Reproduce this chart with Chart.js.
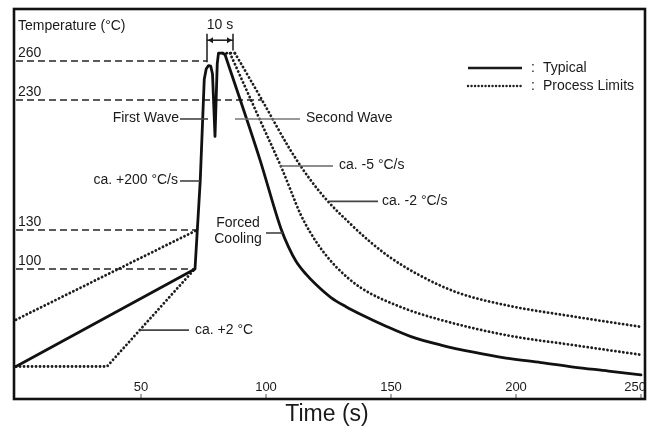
<!DOCTYPE html>
<html>
<head>
<meta charset="utf-8">
<script src="https://cdn.jsdelivr.net/npm/chart.js"></script>
<style>
  body { margin: 0; background: #fff; }
</style>
</head>
<body>
<canvas id="profileChart" width="652" height="433"></canvas>
<script>
// time (s) / temperature (°C)
const typicalTime = [0, 71.6, 73.7, 75.3, 76.1, 77.0, 77.9, 78.6, 79.6, 80.5, 81.0, 82.7, 83.6, 97.6, 106, 109, 112, 116, 120, 126, 132, 138, 148, 158, 170, 183, 196, 210, 223, 237, 250]
const typicalTemp = [25, 100, 168, 246, 254, 256.5, 256, 250, 202, 258, 266, 266, 265, 184, 131, 117, 106, 96, 88, 78, 71, 65, 56, 48, 41.5, 36, 31.5, 28, 24.6, 21.5, 18.5]
const coolingStart = 12 // index where the typical curve starts to cool

const lowPreTime = [0, 36.4, 71]
const lowPreTemp = [25, 25, 99]
const highPreTime = [0, 72.4]
const highPreTemp = [61, 130]

const plateauTime = [82.7, 87.6]
const plateauTemp = [266, 266]
const fastCoolTime = [85.6, 96.8, 106.4, 110.4, 113.6, 117.6, 122.4, 128.4, 137.6, 153.6, 169.6, 196.4, 222.8, 250]
const fastCoolTemp = [266, 218, 177, 158, 143, 128.5, 114.6, 101, 86, 71, 61, 49, 41.5, 34]
const slowCoolTime = [87.6, 98.4, 109.6, 117.6, 124.8, 133.6, 141.6, 149.6, 161.6, 176.4, 196.4, 222.8, 250]
const slowCoolTemp = [266, 230, 192, 169, 152, 135, 121, 109, 95, 82, 72, 63.5, 55.5]

const refTemps = [260, 230, 130, 100]
const refEnds = [76.4, 98.4, 72.4, 71.6]
const xTicks = [50, 100, 150, 200, 250]

const toPoints = (xs, ys) => xs.map((x, i) => ({ x: x, y: ys[i] }))

const FONT = '"Liberation Sans", Arial, sans-serif'
const INK = '#1a1a1a'

const solid = {
    borderColor: '#111',
    borderWidth: 2.8,
    borderJoinStyle: 'round',
    borderCapStyle: 'round',
    pointRadius: 0,
    tension: 0,
    fill: false
}

const dotted = {
    borderColor: '#1e1e1e',
    borderWidth: 2.8,
    borderDash: [0.1, 3.9],
    borderCapStyle: 'round',
    pointRadius: 0,
    tension: 0,
    fill: false
}

function text(ctx, str, x, y, align, size) {
    ctx.font = (size || 14) + 'px ' + FONT
    ctx.textAlign = align || 'left'
    ctx.textBaseline = 'middle'
    ctx.fillStyle = INK
    ctx.fillText(str, x, y)
}

function line(ctx, x1, y1, x2, y2, color, width, dash) {
    ctx.save()
    ctx.strokeStyle = color
    ctx.lineWidth = width
    ctx.lineCap = dash ? 'round' : 'butt'
    ctx.setLineDash(dash || [])
    ctx.beginPath()
    ctx.moveTo(x1, y1)
    ctx.lineTo(x2, y2)
    ctx.stroke()
    ctx.restore()
}

const decorations = {
    id: 'decorations',
    beforeDatasetsDraw(chart) {
        const ctx = chart.ctx
        const xs = chart.scales.x, ys = chart.scales.y
        const left = chart.chartArea.left
        refTemps.forEach((t, i) => {
            const y = ys.getPixelForValue(t)
            ctx.save()
            ctx.strokeStyle = '#5a5a5a'
            ctx.lineWidth = 1.8
            ctx.setLineDash([7, 4])
            ctx.beginPath()
            ctx.moveTo(left + 2, y)
            ctx.lineTo(xs.getPixelForValue(refEnds[i]), y)
            ctx.stroke()
            ctx.restore()
            text(ctx, String(t), left + 4, y - 8, 'left', 14)
        })
    },
    afterDatasetsDraw(chart) {
        const ctx = chart.ctx
        const xs = chart.scales.x, ys = chart.scales.y
        const area = chart.chartArea
        const X = v => xs.getPixelForValue(v)
        const Y = v => ys.getPixelForValue(v)
        const lead = '#444'

        text(ctx, 'Temperature (°C)', area.left + 4, Y(287), 'left', 14)

        // 10 s bracket
        line(ctx, X(76.4), Y(281), X(76.4), Y(259), INK, 1.5)
        line(ctx, X(86.8), Y(281), X(86.8), Y(268), INK, 1.5)
        line(ctx, X(76.4), Y(276), X(86.8), Y(276), INK, 1.5)
        ctx.fillStyle = INK
        ctx.beginPath()
        ctx.moveTo(X(76.4) + 1, Y(276)); ctx.lineTo(X(76.4) + 6, Y(276) - 3); ctx.lineTo(X(76.4) + 6, Y(276) + 3)
        ctx.moveTo(X(86.8) - 1, Y(276)); ctx.lineTo(X(86.8) - 6, Y(276) - 3); ctx.lineTo(X(86.8) - 6, Y(276) + 3)
        ctx.fill()
        text(ctx, '10 s', X(81.6), Y(287.7), 'center', 14)

        text(ctx, 'First Wave', X(65.2), Y(216.2), 'right')
        line(ctx, X(65.6), Y(215.4), X(76.8), Y(215.4), lead, 1.6)
        text(ctx, 'Second Wave', X(116), Y(216.2), 'left')
        line(ctx, X(87.6), Y(215.4), X(113.6), Y(215.4), '#777', 1.6)

        text(ctx, 'ca. +200 °C/s', X(64.8), Y(168.5), 'right')
        line(ctx, X(65.6), Y(167.7), X(73.6), Y(167.7), lead, 1.6)

        text(ctx, 'Forced', X(88.8), Y(135.6), 'center')
        text(ctx, 'Cooling', X(88.8), Y(122.8), 'center')
        line(ctx, X(100), Y(127.7), X(106.8), Y(127.7), lead, 1.6)

        text(ctx, 'ca. -5 °C/s', X(129.2), Y(180), 'left')
        line(ctx, X(105.6), Y(179.2), X(126.8), Y(179.2), '#666', 1.6)
        text(ctx, 'ca. -2 °C/s', X(146.4), Y(152.3), 'left')
        line(ctx, X(125.2), Y(152), X(144.8), Y(152), lead, 1.6)

        text(ctx, 'ca. +2 °C', X(71.6), Y(53), 'left')
        line(ctx, X(49.6), Y(53), X(69.2), Y(53), lead, 1.6)

        // legend
        line(ctx, X(180.8), Y(254.6), X(202.4), Y(254.6), INK, 2.6)
        line(ctx, X(180.8), Y(240.8), X(202.4), Y(240.8), '#222', 2.4, [0.1, 3.4])
        text(ctx, ':', X(206.8), Y(254.6), 'center')
        text(ctx, ':', X(206.8), Y(240.8), 'center')
        text(ctx, 'Typical', X(210.8), Y(254.6), 'left')
        text(ctx, 'Process Limits', X(210.8), Y(240.8), 'left')

        // x ticks inside the frame
        ctx.save()
        ctx.beginPath()
        ctx.rect(area.left, area.top, area.right - area.left, area.bottom - area.top)
        ctx.clip()
        ctx.font = '13px ' + FONT
        xTicks.forEach(v => {
            const half = ctx.measureText(String(v)).width / 2
            const cx = Math.min(X(v), area.right + 1 - half)
            text(ctx, String(v), cx, area.bottom - 12, 'center', 13)
            line(ctx, X(v), area.bottom - 5, X(v), area.bottom, '#555', 1)
        })
        ctx.restore()

        text(ctx, 'Time (s)', chart.width / 2 + 1, 415, 'center', 23)

        // frame
        ctx.save()
        ctx.strokeStyle = '#111'
        ctx.lineWidth = 2.6
        ctx.strokeRect(area.left, area.top, area.right - area.left, area.bottom - area.top)
        ctx.restore()
    }
}

const profileCtx = document.getElementById('profileChart').getContext('2d')
new Chart(profileCtx, {
    type: 'line',
    data: {
        datasets: [
            Object.assign({
                label: 'Typical',
                data: toPoints(typicalTime.slice(0, coolingStart + 1), typicalTemp.slice(0, coolingStart + 1))
            }, solid),
            Object.assign({
                label: 'Typical',
                data: toPoints(typicalTime.slice(coolingStart), typicalTemp.slice(coolingStart)),
                cubicInterpolationMode: 'monotone'
            }, solid),
            Object.assign({ label: 'Process Limits', data: toPoints(lowPreTime, lowPreTemp) }, dotted),
            Object.assign({ label: 'Process Limits', data: toPoints(highPreTime, highPreTemp) }, dotted),
            Object.assign({ label: 'Process Limits', data: toPoints(plateauTime, plateauTemp) }, dotted),
            Object.assign({ label: 'Process Limits', data: toPoints(fastCoolTime, fastCoolTemp), cubicInterpolationMode: 'monotone' }, dotted),
            Object.assign({ label: 'Process Limits', data: toPoints(slowCoolTime, slowCoolTemp), cubicInterpolationMode: 'monotone' }, dotted)
        ]
    },
    options: {
        responsive: false,
        animation: false,
        layout: { padding: { left: 14, right: 7, top: 9, bottom: 34 } },
        plugins: { legend: { display: false }, tooltip: { enabled: false } },
        scales: {
            x: { type: 'linear', min: -0.8, max: 251.6, display: false },
            y: { type: 'linear', min: 0, max: 300, display: false }
        }
    },
    plugins: [decorations]
})
</script>
</body>
</html>
